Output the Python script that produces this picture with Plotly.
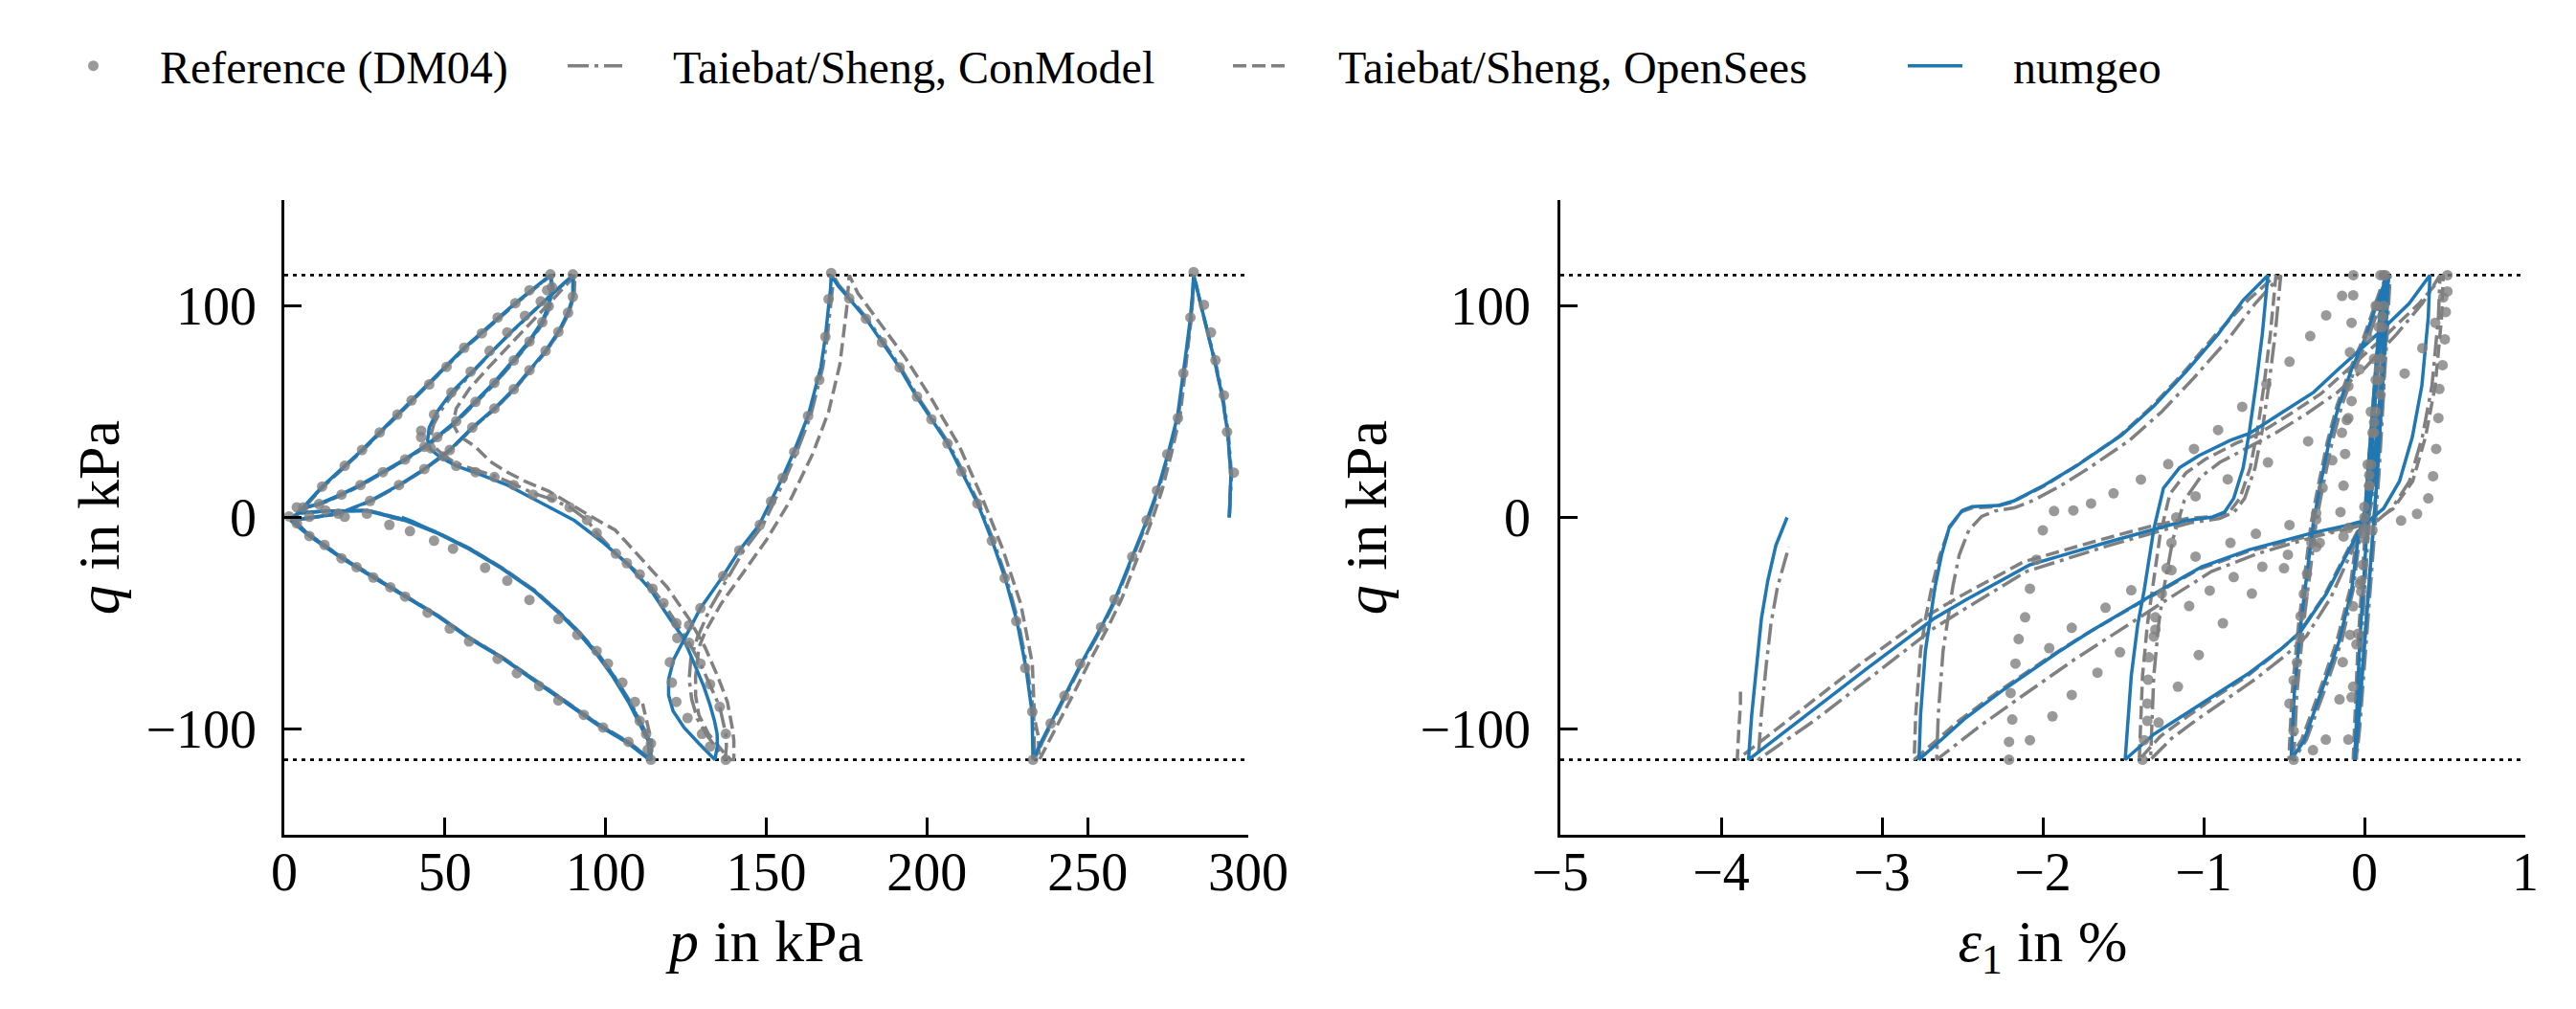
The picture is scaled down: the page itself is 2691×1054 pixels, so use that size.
import plotly.graph_objects as go

# ---------------- data ----------------
Q_AMP = 114.5  # cyclic deviator stress amplitude (dotted lines)

P_TICKS = [0, 50, 100, 150, 200, 250, 300]
EPS_TICKS = [-5, -4, -3, -2, -1, 0, 1]
Q_TICKS = [-100, 0, 100]

# ---- left panel: stress path (p, q) ----
NUMGEO_PQ = [
    (294.1, 0), (294.6, 20), (293.6, 40), (291.8, 58), (289.5, 74), (287.2, 88), (285, 101), (283, 114.5),
    (282.6, 105), (282, 94.5), (280.8, 80), (279.6, 66), (278, 48), (275.2, 31), (271.8, 13), (268.4, -1.5),
    (264, -18.5), (258.6, -38.5), (254.2, -52), (248, -69), (243, -84), (238.6, -97), (235.6, -106), (233, -114.5),
    (232.9, -103), (232.7, -92), (230.8, -71), (228, -49), (224.4, -29), (220.3, -11), (215.8, 6.5), (210.8, 22),
    (206.4, 35), (201.4, 46.5), (196.8, 57), (191.4, 71), (186, 83), (181, 94), (175.8, 103.5), (172.3, 109.5), (170.2, 114.5),
    (170, 108), (169.4, 100), (168.4, 85.4), (167, 71), (163, 48), (158.6, 31), (155, 18.7), (151.4, 7.6), (147.8, -3.5),
    (141.6, -15.6), (136.4, -28), (129.5, -43), (124.5, -57), (121.2, -67), (119.6, -76.5), (119.6, -84), (121, -91.5),
    (124.4, -99.3), (129, -106.8), (134, -114.5),
    (134.8, -108), (134.7, -102.3), (133.9, -96.3), (132.5, -88.7), (130.5, -79.7), (128, -70.6), (125.5, -61.6),
    (123.5, -55.5), (120, -48), (114.1, -34.4), (107.1, -22.4), (99.2, -11.8), (90.3, -1.5), (83.3, 4.2), (77.4, 9),
    (69.4, 15.3), (61.5, 20), (53.5, 24.4), (48.5, 28.5), (45.5, 32.3), (44.6, 36.5), (45.1, 42.5), (47.6, 50),
    (52, 59.1), (58.5, 68.9), (64.6, 78.5), (70.5, 87.5), (76.5, 96), (82, 104), (86.5, 110), (89.8, 114.5),
    (89.9, 108), (89.8, 104.3), (88.3, 96.8), (85.3, 87.7), (81.3, 78.7), (76.3, 69.6), (71.4, 60.6), (65.4, 51.5),
    (58.5, 42.5), (51.5, 31.9), (43.6, 22.9), (35.7, 15.3), (26.7, 7.8), (16.8, 1.8), (8, 0), (2, -1.5), (7.8, -8.8),
    (17.8, -19.3), (27.7, -28.4), (37.6, -37.4), (47.6, -46.5), (57.5, -57.1), (67.4, -66.1), (77.4, -76.7),
    (87.3, -87.2), (97.2, -97.8), (107.1, -106.8), (113.6, -114.5),
    (113.4, -106), (111.1, -99.3), (107.1, -87.2), (102.2, -75.1), (97.2, -64.6), (91.2, -54), (85.3, -45),
    (77.4, -34.4), (67.4, -23.8), (57.5, -14.8), (47.6, -7.3), (37.6, -1.2), (25.7, 3.3), (12.8, 3), (4, 2),
    (5.9, 4.8), (11.8, 14.6), (24.2, 31.9), (39.6, 55.3), (56, 80.2), (71.9, 101.3), (82.8, 114.5),
    (83.3, 108.9), (82.3, 99.8), (80.3, 92.3), (76.3, 83.2), (71.4, 74.2), (65.4, 63.6), (59.5, 54.6), (53.5, 45.5),
    (47.6, 38), (43.6, 33.4), (37.6, 27.4), (30.7, 21.4), (23.7, 15.3), (17.8, 10.8), (10.8, 6.3), (6.9, 4.8),
    (2.5, 0), (4.5, -4), (7.8, -8.5), (17.8, -19), (27.7, -28), (37.6, -37), (47.6, -46.5), (57.5, -57), (67.4, -66),
    (77.4, -76.5), (87.3, -87), (97.2, -97.5), (107.1, -106.5), (114, -114.5),
    (113.8, -106), (111.4, -99), (107.4, -87), (102.5, -75), (97.5, -64.5), (91.5, -54), (85.5, -45), (77.6, -34.5),
    (67.6, -24), (57.8, -15), (47.8, -7.5), (37.8, -1.5), (26, 3), (13, 3), (4, 2), (6, 5), (12, 14.8), (24.4, 32),
    (39.8, 55.5), (56.2, 80.3), (72, 101.4), (82.8, 114.5),
    (83.2, 109), (82.2, 100), (80.2, 92.5), (76.2, 83.4), (71.3, 74.4), (65.3, 63.8), (59.4, 54.8), (53.4, 45.6),
    (47.5, 38.1), (43.5, 33.5), (37.5, 27.5), (30.6, 21.5), (23.6, 15.4), (17.7, 10.9), (10.7, 6.4), (6.8, 4.9),
    (2.5, 0.2), (4.6, -4), (7.9, -8.6), (17.9, -19.1), (27.8, -28.2), (37.7, -37.2), (47.7, -46.6), (57.6, -57.2),
    (67.5, -66.2), (77.5, -76.8), (87.4, -87.3), (97.3, -97.9), (107.2, -106.9), (114, -114.5),
    (113.9, -106), (111.3, -99), (107.3, -87), (102.4, -75), (97.4, -64.5), (91.4, -54), (85.4, -45), (77.5, -34.5),
    (67.5, -24), (57.6, -15), (47.6, -7.4), (40, -2), (36.5, 0),
]

CONMODEL_PQ = [
    (294.1, 0), (294.8, 20), (293.8, 40), (292, 58), (289.7, 74), (287.3, 88), (285.1, 101), (283.2, 114.5),
    (282.8, 105), (282.2, 94.5), (281, 80), (279.8, 66), (278.3, 48), (275.5, 31), (272.1, 13), (268.7, -1.5),
    (264.3, -18.5), (258.9, -38.5), (254.5, -52), (248.3, -69), (243.3, -84), (239, -97), (236, -106), (233.5, -114.5),
    (233.4, -103), (233.2, -92), (231.2, -71), (228.4, -49), (224.8, -29), (220.7, -11), (216.2, 6.5), (211.2, 22),
    (206.8, 35), (201.8, 46.5), (197.2, 57), (191.8, 71), (186.4, 83), (181.4, 94), (176.2, 103.5), (172.7, 109.5), (170.8, 114.5),
    (170.6, 108), (170, 100), (169, 85.4), (167.6, 71), (163.8, 48), (159.5, 31), (156, 18.7), (152.5, 7.6), (149, -3.5),
    (143, -15.6), (138.2, -28), (132.5, -43), (128.5, -57), (126.5, -67), (126, -76.5), (126.8, -86), (128.5, -95),
    (131.5, -103), (134.5, -109), (137.2, -114.5),
    (137.6, -108), (137.4, -102.3), (135.5, -89.5), (132.5, -78.9), (129.5, -69.1), (126, -59.3), (122, -50), (118, -40.5),
    (114.6, -33.7), (110.6, -26.9), (106.6, -21.6), (103.2, -17.1), (97.2, -7.3), (94.2, -1.2), (88.8, 4.8), (83.3, 8.5),
    (77.4, 11.5), (71.4, 15.8), (65.4, 19.6), (59.5, 22.5), (53.5, 25.5), (49.5, 29.5), (46.5, 33.5), (45.5, 38),
    (46.5, 44), (49, 51), (53, 59.5), (59, 69.2), (65, 79), (71, 88), (77, 96.5), (82.5, 104.5), (86.8, 110), (90, 114.5),
    (90, 108), (89.9, 104), (88.5, 96.5), (85.5, 87.5), (81.5, 78.5), (76.5, 69.5), (71.6, 60.5), (65.6, 51.4),
    (58.7, 42.4), (51.7, 31.8), (43.8, 22.8), (35.9, 15.2), (26.9, 7.7), (17, 1.7), (8.2, 0), (2.2, -1.5), (8, -8.8),
    (18, -19.3), (27.9, -28.4), (37.8, -37.4), (47.8, -46.5), (57.7, -57.1), (67.6, -66.1), (77.6, -76.7),
    (87.5, -87.2), (97.4, -97.8), (107.3, -106.8), (114, -114.5),
    (113.6, -106), (111.3, -99.3), (107.3, -87.2), (102.4, -75.1), (97.4, -64.6), (91.4, -54), (85.5, -45),
    (77.6, -34.4), (67.6, -23.8), (57.7, -14.8), (47.8, -7.3), (37.8, -1.2), (25.9, 3.3), (13, 3), (4.2, 2),
    (6.1, 4.8), (12, 14.6), (24.4, 31.9), (39.8, 55.3), (56.2, 80.2), (72.1, 101.3), (83, 114.5),
    (83.5, 108.9), (82.5, 99.8), (80.5, 92.3), (76.5, 83.2), (71.6, 74.2), (65.6, 63.6), (59.7, 54.6), (53.7, 45.5),
    (47.8, 38), (43.8, 33.4), (37.8, 27.4), (30.9, 21.4), (23.9, 15.3), (18, 10.8), (11, 6.3), (7.1, 4.8),
    (2.7, 0), (4.7, -4), (8, -8.5), (18, -19), (27.9, -28), (37.8, -37), (47.8, -46.5), (57.7, -57), (67.6, -66),
    (77.6, -76.5), (87.5, -87), (97.4, -97.5), (107.3, -106.5), (114.2, -114.5),
    (114, -106), (111.6, -99), (107.6, -87), (102.7, -75), (97.7, -64.5), (91.7, -54), (85.7, -45), (77.8, -34.5),
    (67.8, -24), (58, -15), (48, -7.5), (38, -1.5), (33, 0),
]

OPENSEES_PQ = [
    (294.1, 0), (294.6, 20), (293.6, 40), (291.8, 58), (289.5, 74), (287.2, 88), (285, 101), (283, 114.5),
    (282.8, 105), (282.3, 94.5), (281.2, 80), (280.2, 66), (278.8, 48), (276.2, 31), (273.2, 13), (270, -1.5),
    (265.8, -18.5), (260.6, -38.5), (256.3, -52), (250.3, -69), (245.4, -84), (241, -97), (237.8, -106), (235, -114.5),
    (234.6, -103), (233.5, -95.4), (232.8, -69.1), (229.2, -40.9), (223.5, -14.6), (217.1, 9.6), (210, 33.9),
    (201.4, 56.1), (192.9, 76.3), (182.9, 96.5), (178.5, 106), (175.8, 114.5),
    (175.5, 106), (175, 98.5), (172.9, 72.3), (169.4, 50), (164.4, 29.9), (157.3, 7.6), (150.1, -10.5), (141.6, -28.7),
    (135.9, -40.9), (131, -54), (129, -61.6), (128, -75.2), (128, -84.2), (129, -93.3), (132, -102.3), (136.9, -111.4),
    (138.9, -114.5),
    (139.9, -114.5), (139.9, -105.3), (139.4, -99.3), (137.9, -87.2), (134.9, -75.2), (131, -61.6), (126, -48),
    (119.1, -32.9), (110.1, -17.8), (103, -6), (96, 0), (89.5, 6), (82.3, 12.4), (75, 17), (69.4, 21.4), (64, 26.5),
    (59.5, 33.4), (54.5, 38.5), (52.5, 44), (53.5, 51.5), (57.5, 60.6), (63, 70), (68.5, 79), (74, 88), (79.5, 96.5),
    (84.5, 104.5), (88, 110), (90.5, 114.5),
    (90.3, 108), (90.1, 104.3), (88.6, 96.8), (85.6, 87.7), (81.6, 78.7), (76.6, 69.6), (71.7, 60.6), (65.7, 51.5),
    (58.8, 42.5), (51.8, 31.9), (43.9, 22.9), (36, 15.3), (27, 7.8), (17.1, 1.8), (8.3, 0), (2.3, -1.5), (8.1, -8.8),
    (18.1, -19.3), (28, -28.4), (37.9, -37.4), (47.9, -46.5), (57.8, -57.1), (67.7, -66.1), (77.7, -76.7),
    (87.6, -87.2), (97.5, -97.8), (107.4, -106.8), (114.2, -114.5),
    (113.8, -106), (111.5, -99.3), (107.5, -87.2), (102.6, -75.1), (97.6, -64.6), (91.6, -54), (85.7, -45),
    (77.8, -34.4), (67.8, -23.8), (57.9, -14.8), (48, -7.3), (38, -1.2), (26.1, 3.3), (13.2, 3), (4.4, 2),
    (6.3, 4.8), (12.2, 14.6), (24.6, 31.9), (40, 55.3), (56.4, 80.2), (72.3, 101.3), (83.2, 114.5),
    (83.7, 108.9), (82.7, 99.8), (80.7, 92.3), (76.7, 83.2), (71.8, 74.2), (65.8, 63.6), (59.9, 54.6), (53.9, 45.5),
    (48, 38), (44, 33.4), (38, 27.4), (31.1, 21.4), (24.1, 15.3), (18.2, 10.8), (11.2, 6.3), (7.3, 4.8),
    (2.9, 0), (4.9, -4), (8.2, -8.5), (18.2, -19), (28.1, -28), (38, -37), (48, -46.5), (57.9, -57), (67.8, -66),
    (77.8, -76.5), (87.7, -87), (97.6, -97.5), (107.5, -106.5), (114.4, -114.5),
    (114.3, -106), (112.8, -97), (111.5, -88),
]

REF_PQ = [
    (295.5, 21.2), (293.4, 40.4), (292.4, 57.7), (289.8, 74.3), (288.4, 87.4), (286.2, 100.5), (283, 116),
    (282, 94.5), (279.8, 68.2), (278.1, 47), (274.8, 29.9), (271.6, 12.7), (268.4, -1.4), (263.9, -18.6),
    (258.4, -38.8), (254.2, -51.9), (247.7, -69.1), (242.8, -84.3), (238.5, -97.4), (233, -114.5),
    (232.8, -91.8), (230.6, -71.2), (227.8, -49), (224.2, -28.7), (220.2, -11), (215.7, 6.6), (210.7, 21.8),
    (206.4, 34.9), (201.4, 46.4), (196.9, 57.1), (191.5, 70.9), (186, 82.8), (181, 93.9), (175.8, 103.6), (170.2, 115.5),
    (169.4, 103.2), (168.4, 85.4), (166.5, 65), (163, 48), (158.7, 30.9), (155.1, 18.7), (151.5, 7.6), (148, -3.5),
    (141.6, -15.6), (136.6, -27.7), (129.5, -42.9), (126, -51), (122.3, -57), (120, -68.4), (120.6, -78.1),
    (122, -87.2), (125.5, -94.8), (130, -102.3), (132.5, -108.3), (137.4, -114.5),
    (137.4, -102.3), (135.5, -89.5), (132.5, -78.9), (129.5, -69.1), (126, -59.3), (122, -50), (118, -40.5),
    (114.6, -33.7), (110.6, -26.9), (106.6, -21.6), (103.2, -17.1), (97.2, -7.3), (94.2, -1.2), (88.8, 4.8),
    (83.3, 9.3), (77.4, 10.8), (71.4, 15.3), (65.4, 19.1), (59.5, 21.4), (53.5, 24.4), (49.5, 28.9), (45.6, 32.7),
    (42.6, 38), (42.6, 41), (46.6, 48.6), (52, 59.1), (58, 68.9), (63.9, 78.7), (69.4, 87.5), (74.9, 95.3),
    (79.8, 102.1), (81.8, 107.4), (82.8, 114.9),
    (5.9, 4.8), (11.8, 14.6), (18.8, 24.4), (24.2, 31.9), (29.7, 40.2), (35.2, 48.6), (39.6, 55.3), (45.1, 62.9),
    (50.5, 71.2), (56, 80.2), (61.5, 87), (66.4, 94.5), (71.9, 101.3), (76.3, 107.4),
    (83.3, 108.9), (82.3, 99.8), (80.3, 92.3), (76.3, 83.2), (71.4, 74.2), (65.4, 63.6), (59.5, 54.6), (53.5, 45.5),
    (47.6, 38), (43.6, 33.4), (37.6, 27.4), (30.7, 21.4), (23.7, 15.3), (17.8, 10.8), (10.8, 6.3),
    (89.8, 114.9), (89.8, 104.3), (88.3, 96.8), (85.3, 87.7), (81.3, 78.7), (76.3, 69.6), (71.4, 60.6), (65.4, 51.5),
    (58.5, 42.5), (51.5, 31.9), (43.6, 22.9), (35.7, 15.3), (26.7, 7.8), (16.8, 1.8), (7.8, 0.3),
    (3.9, 4.8), (3.9, -2.8), (12.8, 3.3), (18.8, 0.3), (25.7, 1.8), (1.5, 0.5),
    (7.8, -8.8), (12.5, -13), (17.8, -19.3), (22.5, -23.5), (27.7, -28.4), (33, -33), (37.6, -37.4), (44.6, -45),
    (51.5, -52.5), (57.5, -58.6), (66.4, -66.8), (72.4, -73.6), (79.3, -79.7), (85.3, -86.5), (93.2, -93.3),
    (99.2, -99.3), (107.1, -106.1), (113.1, -109.8), (114.1, -114.5),
    (32.7, -3.5), (39.1, -6.5), (46.6, -11), (52.5, -14.8), (62.5, -23.8), (69.4, -29.9), (76.3, -39), (85.3, -48),
    (91.2, -55.5), (97.2, -63.1), (100.7, -69.1), (105.2, -78.1), (109.1, -87.2), (110.6, -96.2), (112.6, -102.3),
    (114.1, -106.8),
]

# ---- right panel: stress-strain (eps1 in %, q) ----
NUMGEO_EQ = [
    (0, 0), (0.05, 50), (0.1, 100), (0.13, 114.5),
    (0.11, 60), (0.08, 20), (0.04, -20), (0.0, -60), (-0.04, -100), (-0.06, -114.5),
    (-0.03, -60), (0.02, 0), (0.07, 60), (0.12, 100), (0.14, 114.5),
    (0.12, 80), (0.08, 40), (0.03, 10), (0.0, 2.5), (-0.04, -10.4), (-0.08, -34.6), (-0.159, -58.9), (-0.258, -79.9),
    (-0.377, -105.7), (-0.456, -114.5),
    (-0.436, -83), (-0.397, -51), (-0.357, -27), (-0.317, -2), (-0.278, 14), (-0.218, 36.5), (-0.159, 53), (-0.08, 70),
    (0.0, 84), (0.06, 97), (0.11, 108), (0.15, 114.5),
    (0.13, 85), (0.1, 50), (0.06, 20), (0.03, 5), (0.01, -0.7), (-0.04, -7.2), (-0.119, -18.5), (-0.238, -36.2),
    (-0.397, -54), (-0.516, -62.1), (-0.714, -73.4), (-0.91, -83.1), (-1.11, -92.8), (-1.31, -102.5), (-1.488, -114.5),
    (-1.45, -75), (-1.41, -50.8), (-1.37, -34.6), (-1.31, -5.6), (-1.25, 13.8), (-1.15, 23.5), (-1.03, 29.2),
    (-0.833, 36.5), (-0.714, 39.7), (-0.516, 49.4), (-0.317, 59.1), (-0.158, 70.4), (0.08, 86.6), (0.278, 101.1), (0.407, 114.5),
    (0.397, 94.7), (0.357, 62.3), (0.298, 38.1), (0.218, 17.1), (0.119, 4.2), (0.04, -0.7), (-0.119, -3.9), (-0.317, -7.2),
    (-0.714, -15.2), (-1.012, -23.3), (-1.31, -36.2), (-1.706, -54), (-1.905, -63.7), (-2.24, -81.2), (-2.48, -94.8), (-2.77, -114.5),
    (-2.76, -93.3), (-2.73, -63), (-2.70, -48), (-2.67, -32.9), (-2.63, -17.8), (-2.58, -4.3), (-2.50, 3.3), (-2.44, 5.1),
    (-2.28, 5.6), (-2.18, 7.8), (-1.99, 15.3), (-1.79, 24.4), (-1.51, 38.9), (-1.31, 52.6), (-1.11, 68.8), (-0.91, 86.6),
    (-0.754, 102.7), (-0.6, 114.5),
    (-0.605, 110.8), (-0.635, 86.6), (-0.675, 62.3), (-0.714, 41.3), (-0.754, 23.5), (-0.813, 9), (-0.87, 2.5), (-0.95, 0.1),
    (-1.11, -1.5), (-1.31, -5.6), (-1.61, -12), (-1.905, -18.5), (-2.08, -22.4), (-2.48, -39), (-2.68, -48), (-3.08, -70.6),
    (-3.47, -93.3), (-3.83, -114.5),
    (-3.81, -93.3), (-3.78, -70.6), (-3.75, -48), (-3.71, -29.9), (-3.66, -13.3), (-3.59, 0),
]

CONMODEL_EQ = [
    (0, 0), (0.06, 50), (0.11, 100), (0.14, 114.5),
    (0.12, 60), (0.09, 20), (0.05, -20), (0.01, -60), (-0.03, -100), (-0.05, -114.5),
    (-0.02, -60), (0.03, 0), (0.08, 60), (0.13, 100), (0.15, 114.5),
    (0.13, 80), (0.09, 40), (0.04, 10), (0.01, 2.5), (-0.03, -10), (-0.07, -34), (-0.14, -58), (-0.24, -80), (-0.36, -105), (-0.44, -114.5),
    (-0.42, -83), (-0.38, -51), (-0.34, -27), (-0.3, -2), (-0.26, 14), (-0.2, 36), (-0.14, 53), (-0.06, 70), (0.02, 84),
    (0.08, 97), (0.13, 108), (0.16, 114.5),
    (0.14, 85), (0.11, 50), (0.07, 20), (0.04, 5), (0.02, -1), (-0.03, -8), (-0.1, -19.5), (-0.21, -38), (-0.36, -56),
    (-0.48, -64.5), (-0.67, -76), (-0.86, -86), (-1.04, -95.5), (-1.2, -104.5), (-1.33, -114.5),
    (-1.31, -75), (-1.28, -50.8), (-1.25, -34.6), (-1.19, -10), (-1.12, 8), (-1.02, 19), (-0.9, 26), (-0.72, 33),
    (-0.55, 40), (-0.36, 49), (-0.17, 59), (0.0, 70.4), (0.2, 86.6), (0.36, 101.1), (0.47, 114.5),
    (0.46, 94.7), (0.42, 62.3), (0.36, 38.1), (0.28, 17.1), (0.17, 4.2), (0.08, -1.5), (-0.08, -5), (-0.28, -8.5),
    (-0.66, -17), (-0.95, -25.5), (-1.22, -38.5), (-1.6, -57), (-1.8, -67), (-2.13, -84.5), (-2.38, -98), (-2.66, -114.5),
    (-2.65, -93.3), (-2.62, -63), (-2.59, -48), (-2.56, -32.9), (-2.52, -17.8), (-2.46, -6), (-2.38, 0.5), (-2.3, 3),
    (-2.18, 4.5), (-2.06, 8), (-1.9, 14.5), (-1.72, 23), (-1.46, 36.5), (-1.26, 50), (-1.06, 66), (-0.85, 84),
    (-0.68, 101), (-0.52, 114.5),
    (-0.525, 110.8), (-0.555, 86.6), (-0.595, 62.3), (-0.635, 41.3), (-0.68, 23.5), (-0.745, 9), (-0.81, 2.5), (-0.9, -0.5),
    (-1.08, -2.5), (-1.3, -7), (-1.62, -14), (-1.92, -21), (-2.1, -25.5), (-2.48, -43), (-2.68, -52.5), (-3.06, -75),
    (-3.42, -96), (-3.77, -114.5),
    (-3.75, -93), (-3.72, -70), (-3.69, -50), (-3.65, -33), (-3.6, -20), (-3.58, -14),
]

OPENSEES_EQ = [
    (0, 0), (0.05, 50), (0.1, 100), (0.13, 114.5),
    (0.11, 60), (0.08, 20), (0.04, -20), (0.0, -60), (-0.04, -100), (-0.07, -114.5),
    (-0.04, -60), (0.01, 0), (0.06, 60), (0.11, 100), (0.14, 114.5),
    (0.12, 80), (0.08, 40), (0.03, 10), (0.0, 2.5), (-0.05, -10), (-0.09, -34), (-0.17, -58), (-0.27, -80), (-0.39, -105), (-0.47, -114.5),
    (-0.45, -83), (-0.41, -51), (-0.37, -27), (-0.33, -2), (-0.29, 14), (-0.23, 36), (-0.17, 53), (-0.09, 70), (-0.01, 84),
    (0.05, 97), (0.1, 108), (0.14, 114.5),
    (0.12, 85), (0.09, 50), (0.05, 20), (0.02, 5), (0.0, -1), (-0.05, -7.5), (-0.13, -19), (-0.25, -37), (-0.41, -55),
    (-0.53, -63), (-0.72, -74.5), (-0.92, -84.5), (-1.1, -94), (-1.27, -103.5), (-1.4, -114.5),
    (-1.38, -75), (-1.35, -50.8), (-1.32, -34.6), (-1.27, -8), (-1.21, 11), (-1.11, 21), (-0.99, 27.5), (-0.8, 35),
    (-0.66, 39.5), (-0.47, 48.5), (-0.27, 58.5), (-0.1, 70), (0.14, 86.6), (0.34, 101.1), (0.49, 114.5),
    (0.48, 94.7), (0.44, 62.3), (0.38, 38.1), (0.3, 17.1), (0.18, 4.2), (0.08, -1), (-0.09, -4.5), (-0.3, -8),
    (-0.72, -16), (-1.03, -24.5), (-1.33, -37.5), (-1.74, -55.5), (-1.95, -65.5), (-2.28, -82.5), (-2.52, -96), (-2.8, -114.5),
    (-2.79, -93.3), (-2.76, -63), (-2.73, -48), (-2.69, -32.9), (-2.64, -17.8), (-2.58, -5), (-2.51, 2.5), (-2.44, 4.5),
    (-2.3, 5), (-2.2, 7), (-2.0, 14.5), (-1.81, 23.5), (-1.53, 38), (-1.33, 51.8), (-1.13, 68), (-0.93, 86),
    (-0.72, 103), (-0.55, 114.5),
    (-0.555, 110.8), (-0.585, 86.6), (-0.625, 62.3), (-0.665, 41.3), (-0.71, 23.5), (-0.775, 9), (-0.84, 2.5), (-0.93, 0.5),
    (-1.1, -0.5), (-1.32, -4), (-1.64, -10.5), (-1.94, -17), (-2.12, -21), (-2.52, -37.5), (-2.72, -46.5), (-3.13, -69),
    (-3.52, -92), (-3.9, -114.5),
    (-3.89, -100), (-3.88, -88), (-3.88, -80),
]

REF_EQ = [
    (0.0, 0), (0.02, 25), (0.04, 50), (0.06, 75), (0.08, 100), (0.1, 114.5),
    (0.09, 90), (0.07, 65), (0.05, 40), (0.03, 15), (0.0, -10), (-0.02, -35), (-0.05, -60), (-0.08, -85), (-0.1, -105),
    (-0.07, -80), (-0.04, -55), (-0.02, -30), (0.0, -5), (0.03, 20), (0.06, 45), (0.09, 70), (0.11, 95), (0.12, 114.5),
    (0.11, 90), (0.09, 65), (0.06, 40), (0.03, 15), (-0.01, -7.3), (-0.01, -22.4), (-0.03, -31.4), (-0.07, -42),
    (-0.09, -55.5), (-0.135, -68.4), (-0.155, -86), (-0.24, -105), (-0.32, -110), (-0.44, -114.5),
    (-0.44, -101), (-0.466, -88), (-0.44, -77), (-0.42, -68.6), (-0.4, -57), (-0.397, -46.7), (-0.377, -36.2),
    (-0.357, -26.6), (-0.33, -12), (-0.3, 2), (-0.26, 14), (-0.2, 27), (-0.14, 40), (-0.08, 55), (-0.03, 70),
    (0.02, 85), (0.07, 100), (0.13, 114.5),
    (0.12, 100), (0.1, 75), (0.07, 50), (0.04, 25), (0.0, 5), (-0.1, -5), (-0.3, -14), (-0.5, -24), (-0.7, -36),
    (-0.88, -50), (-1.03, -65), (-1.16, -80), (-1.28, -97), (-1.38, -114.5),
    (-1.37, -105.3), (-1.35, -96.2), (-1.35, -88), (-1.345, -76.7), (-1.34, -66.1), (-1.31, -56.3), (-1.3, -47.2),
    (-1.26, -36), (-1.23, -24), (-1.2, -12), (-1.17, 0), (-1.05, 10), (-0.85, 18), (-0.6, 26), (-0.35, 36),
    (-0.1, 47), (0.1, 58), (0.25, 68), (0.36, 80), (0.44, 92), (0.49, 104), (0.516, 114.5),
    (0.516, 106.8), (0.506, 97.1), (0.5, 84.2), (0.486, 72), (0.466, 60.7), (0.46, 47), (0.446, 32.4), (0.427, 19.5),
    (0.397, 9), (0.327, 1.7), (0.228, -1.5), (0.05, -6), (-0.13, -9), (-0.278, -12), (-0.476, -17.6), (-0.635, -23.3),
    (-0.813, -28.2), (-0.962, -34.6), (-1.09, -41.9), (-1.3, -53), (-1.52, -63.7), (-1.66, -73.4), (-1.82, -83.9),
    (-1.94, -94), (-2.08, -105.3), (-2.21, -114.5),
    (-2.21, -106.1), (-2.19, -95.5), (-2.2, -83), (-2.17, -69.1), (-2.15, -57.5), (-2.11, -47.2), (-2.08, -33.7),
    (-2.04, -20), (-2.0, -6.1), (-1.93, 3), (-1.81, 3.3), (-1.7, 6.6), (-1.56, 11.4), (-1.39, 17.9), (-1.22, 25.2),
    (-1.06, 32.4), (-0.91, 41.3), (-0.76, 52.3), (-0.61, 63), (-0.466, 73.6), (-0.337, 85.7), (-0.238, 95.5),
    (-0.139, 104.7), (-0.069, 114.5),
    (-0.07, 105), (-0.08, 92), (-0.09, 78), (-0.1, 62), (-0.11, 46), (-0.12, 30), (-0.13, 15), (-0.149, 2.5),
    (-0.3, -1), (-0.466, -3.6), (-0.675, -7.7), (-0.833, -12), (-1.05, -18.5), (-1.2, -24.9), (-1.45, -34.4),
    (-1.61, -42.7), (-1.82, -52.2), (-1.96, -61.8),
]

# ---------------- styling / layout ----------------
# the page body adds an 8 px offset, so the figure is 16 px smaller than the window
W, H = 2675, 1038
ML, MR, MT, MB = 289, 45, 201, 174
PW = W - ML - MR
PH = H - MT - MB

FONT = "Liberation Serif"
GRAY = "#808080"
BLUE = "#1f77b4"
LW = 3.5
DASH = "14px,6px"
DASHDOT = "22px,6px,4px,6px"
NBSP = "\u00a0"


def xs(pts):
    return [a for a, b in pts]


def ys(pts):
    return [b for a, b in pts]


def px_x(fig_x):
    return (fig_x - ML) / PW


fig = go.Figure()

panels = [
    ("x", "y", REF_PQ, CONMODEL_PQ, OPENSEES_PQ, NUMGEO_PQ, True),
    ("x2", "y2", REF_EQ, CONMODEL_EQ, OPENSEES_EQ, NUMGEO_EQ, False),
]
for xa, ya, ref, con, ops, num, show in panels:
    fig.add_trace(go.Scatter(x=xs(con), y=ys(con), xaxis=xa, yaxis=ya, mode="lines",
                             line=dict(color=GRAY, width=LW, dash=DASHDOT),
                             name=NBSP * 4 + "Taiebat/Sheng, ConModel", legend="legend2", showlegend=show))
    fig.add_trace(go.Scatter(x=xs(ops), y=ys(ops), xaxis=xa, yaxis=ya, mode="lines",
                             line=dict(color=GRAY, width=LW, dash=DASH),
                             name=NBSP * 4 + "Taiebat/Sheng, OpenSees", legend="legend3", showlegend=show))
    fig.add_trace(go.Scatter(x=xs(num), y=ys(num), xaxis=xa, yaxis=ya, mode="lines",
                             line=dict(color=BLUE, width=LW),
                             name=NBSP * 4 + "numgeo", legend="legend4", showlegend=show))
    fig.add_trace(go.Scatter(x=xs(ref), y=ys(ref), xaxis=xa, yaxis=ya, mode="markers",
                             marker=dict(color=GRAY, size=11, opacity=0.8, line=dict(width=0)),
                             name=NBSP * 3 + "Reference (DM04)", legend="legend", showlegend=show))

# amplitude lines
for xa, ya, x0, x1 in [("x", "y", P_TICKS[0], P_TICKS[-1]), ("x2", "y2", EPS_TICKS[0], EPS_TICKS[-1])]:
    for qv in (Q_AMP, -Q_AMP):
        fig.add_shape(type="line", xref=xa, yref=ya, x0=x0, x1=x1, y0=qv, y1=qv,
                      line=dict(color="black", width=2.7, dash="4px,5px"), layer="below")

axis_common = dict(showline=True, linecolor="black", linewidth=2.5, ticks="inside", ticklen=18,
                   tickwidth=2.5, tickcolor="black", showgrid=False, zeroline=False, mirror=False,
                   tickfont=dict(family=FONT, size=56, color="black"), automargin=False)
TITLE_FONT = dict(family=FONT, size=62, color="black")

fig.update_layout(
    width=W, height=H,
    margin=dict(l=ML, r=MR, t=MT, b=MB, autoexpand=False),
    paper_bgcolor="white", plot_bgcolor="white",
    font=dict(family=FONT, color="black"),
    xaxis=dict(domain=[0, px_x(1296)], range=[P_TICKS[0], P_TICKS[-1]], tickvals=P_TICKS, anchor="y",
               ticklabelstandoff=-12,
               title=dict(text="<i>p</i> in kPa", font=TITLE_FONT, standoff=20), **axis_common),
    yaxis=dict(domain=[0, 1], range=[-150, 150], tickvals=Q_TICKS, anchor="x", ticklabelstandoff=15,
               title=dict(text="<i>q</i> in kPa", font=TITLE_FONT, standoff=8), **axis_common),
    xaxis2=dict(domain=[px_x(1622), 1], range=[EPS_TICKS[0], EPS_TICKS[-1]], tickvals=EPS_TICKS, anchor="y2",
                ticklabelstandoff=-12,
                title=dict(text="<i>ε</i><sub>1</sub> in %", font=TITLE_FONT, standoff=20), **axis_common),
    yaxis2=dict(domain=[0, 1], range=[-150, 150], tickvals=Q_TICKS, anchor="x2", ticklabelstandoff=17,
                title=dict(text="<i>q</i> in kPa", font=TITLE_FONT, standoff=15), **axis_common),
)

legend_common = dict(orientation="h", xref="container", yref="container", yanchor="middle",
                     y=1 - 61 / H, xanchor="left", bgcolor="rgba(0,0,0,0)", borderwidth=0, itemwidth=57,
                     font=dict(family=FONT, size=48, color="black"))
fig.update_layout(
    legend=dict(x=56 / W, **legend_common),
    legend2=dict(x=580 / W, **legend_common),
    legend3=dict(x=1275 / W, **legend_common),
    legend4=dict(x=1980 / W, **legend_common),
)

fig.write_html("out.html")
